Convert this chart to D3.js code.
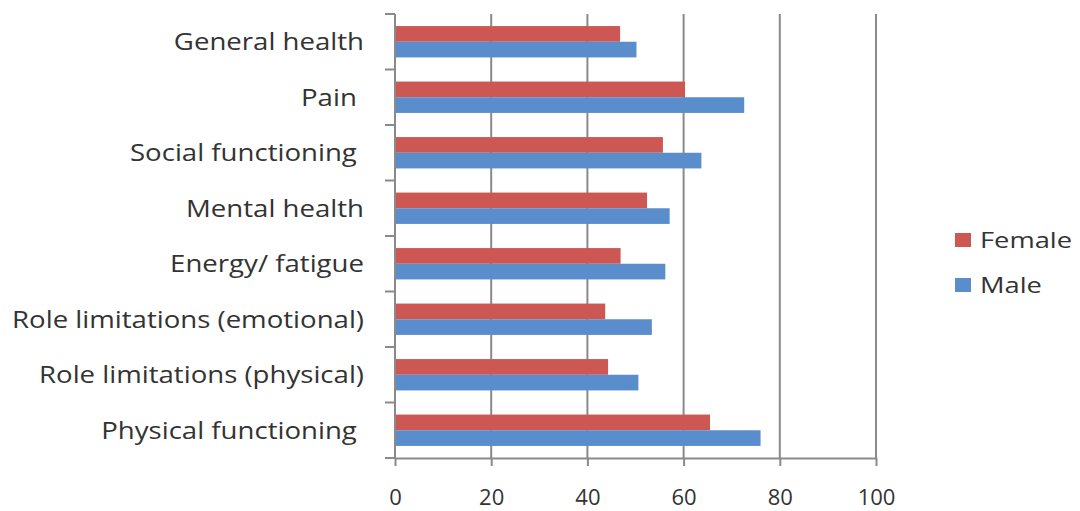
<!DOCTYPE html>
<html>
<head>
<meta charset="utf-8">
<script src="https://cdn.jsdelivr.net/npm/d3@7"></script>
<style>
  body { margin: 0; background: #fff; }
  text { font-family: "Open Sans", sans-serif; fill: #333; }
</style>
</head>
<body>
<div id="chart"></div>
<script>
// categories, top to bottom (trailing spaces are in the original labels)
const categories = ["General health", "Pain ", "Social functioning ", "Mental health",
                    "Energy/ fatigue", "Role limitations (emotional)",
                    "Role limitations (physical)", "Physical functioning "];
const female = [46.8, 60.3, 55.7, 52.4, 46.9, 43.7, 44.3, 65.5];
const male   = [50.2, 72.6, 63.7, 57.1, 56.2, 53.4, 50.6, 76.0];
const seriesNames = ["Female", "Male"];
const xTicks = [0, 20, 40, 60, 80, 100];

const W = 1080, H = 511;
const M = {left: 395, top: 14, right: 204, bottom: 53};
const COLORS = {Female: "#CC5753", Male: "#5A8DCB"};
const LABEL_STRETCH = 1.2;   // the source image is a bit wide
const LEGEND_STRETCH = 1.3;

const rows = categories.map((c, i) => ({cat: c, Female: female[i], Male: male[i]}));

const svg = d3.select("#chart").append("svg")
              .attr("width", W)
              .attr("height", H);

const x = d3.scaleLinear().domain([0, 100]).range([M.left, W - M.right]);
const y = d3.scaleBand().domain(categories).range([M.top, H - M.bottom])
            .paddingInner(0.435).paddingOuter(0.2175);
const ySub = d3.scaleBand().domain(seriesNames).range([0, y.bandwidth()]);

// vertical gridlines
svg.append("g")
   .selectAll("line")
   .data(xTicks.slice(1))
   .enter()
   .append("line")
   .attr("x1", (d) => x(d))
   .attr("x2", (d) => x(d))
   .attr("y1", M.top)
   .attr("y2", H - M.bottom)
   .attr("stroke", "#8a8a8a")
   .attr("stroke-width", 2);

// bars
const groups = svg.append("g")
                  .selectAll("g.cat")
                  .data(rows)
                  .enter()
                  .append("g")
                  .classed("cat", true)
                  .attr("transform", (d) => "translate(0," + y(d.cat) + ")");
groups.selectAll("rect")
      .data((d) => seriesNames.map((s) => ({s: s, v: d[s]})))
      .enter()
      .append("rect")
      .attr("x", x(0))
      .attr("y", (d) => ySub(d.s))
      .attr("width", (d) => x(d.v) - x(0))
      .attr("height", ySub.bandwidth())
      .attr("fill", (d) => COLORS[d.s]);

// y axis: ticks between categories
const yAxis = svg.append("g");
yAxis.append("line")
     .attr("x1", x(0)).attr("x2", x(0))
     .attr("y1", M.top).attr("y2", H - M.bottom)
     .attr("stroke", "#8a8a8a").attr("stroke-width", 2);
yAxis.selectAll("line.tick")
     .data(d3.range(categories.length + 1))
     .enter()
     .append("line")
     .classed("tick", true)
     .attr("x1", x(0) - 10).attr("x2", x(0))
     .attr("y1", (i) => M.top + i * y.step())
     .attr("y2", (i) => M.top + i * y.step())
     .attr("stroke", "#8a8a8a").attr("stroke-width", 2);
yAxis.selectAll("g.lab")
     .data(categories)
     .enter()
     .append("g")
     .classed("lab", true)
     .attr("transform", (d) => "translate(364," + (y(d) + y.bandwidth() / 2) + ") scale(" + LABEL_STRETCH + ",1)")
     .append("text")
     .attr("dy", "0.36em")
     .attr("text-anchor", "end")
     .attr("font-size", 23)
     .style("white-space", "pre")
     .text((d) => d);

// x axis
const xAxis = svg.append("g")
                 .attr("transform", "translate(0," + (H - M.bottom) + ")")
                 .call(d3.axisBottom(x).tickValues(xTicks).tickSize(8).tickSizeOuter(0));
xAxis.select(".domain").attr("stroke", "#8a8a8a").attr("stroke-width", 2);
xAxis.selectAll(".tick line").attr("stroke", "#8a8a8a").attr("stroke-width", 2);
xAxis.selectAll(".tick text")
     .attr("y", 40)
     .attr("dy", "0.32em")
     .attr("font-size", 22)
     .attr("font-family", "Open Sans, sans-serif")
     .attr("fill", "#333");

// legend
const legend = svg.append("g").attr("transform", "translate(955,240)");
const li = legend.selectAll("g")
                 .data(seriesNames)
                 .enter()
                 .append("g")
                 .attr("transform", (d, i) => "translate(0," + (i * 45) + ")");
li.append("rect")
  .attr("x", 0).attr("y", -7)
  .attr("width", 16).attr("height", 14)
  .attr("fill", (d) => COLORS[d]);
li.append("g")
  .attr("transform", "translate(25,0) scale(" + LEGEND_STRETCH + ",1)")
  .append("text")
  .attr("dy", "0.36em")
  .attr("font-size", 21)
  .text((d) => d);
</script>
</body>
</html>
